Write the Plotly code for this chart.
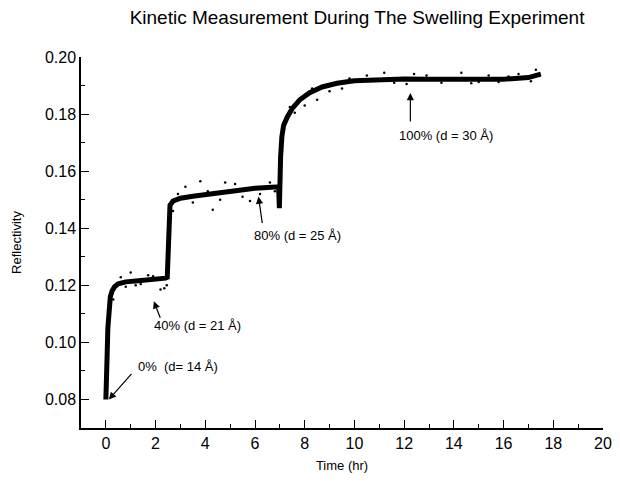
import plotly.graph_objects as go

# Trend of reflectivity vs time
time_hr = [0.00, 0.02, 0.05, 0.08, 0.12, 0.18, 0.25, 0.35, 0.5, 0.8, 1.2, 1.6, 2.0, 2.4, 2.47,
           2.49, 2.51, 2.53, 2.58, 2.7, 3.0, 3.5, 4.0, 4.5, 5.0, 5.5, 6.0, 6.5, 6.95,
           6.98, 7.0, 7.03, 7.08, 7.15, 7.3, 7.5, 7.8, 8.2, 8.7, 9.3, 10.0, 11.0, 12.0,
           13.0, 14.0, 15.0, 16.0, 17.0, 17.5]
reflectivity = [0.0800, 0.0830, 0.0950, 0.1050, 0.1120, 0.1160, 0.1180, 0.1195, 0.1205, 0.1212,
                0.1215, 0.1218, 0.1220, 0.1225, 0.1228,
                0.1300, 0.1400, 0.1450, 0.1480, 0.1495, 0.1505, 0.1512, 0.1518, 0.1525, 0.1530,
                0.1535, 0.1540, 0.1543, 0.1545,
                0.1470, 0.1580, 0.1650, 0.1720, 0.1760, 0.1790, 0.1820, 0.1850, 0.1875, 0.1895,
                0.1908, 0.1917, 0.1922, 0.1923, 0.1922, 0.1921, 0.1921, 0.1922, 0.1928, 0.1940]

# Scattered outlying points
scatter_t = [0.3, 0.6, 0.8, 1.0, 1.2, 1.4, 1.7, 1.9, 2.2, 2.35, 2.45, 2.7, 2.9, 3.2, 3.5,
             3.8, 4.1, 4.3, 4.6, 4.8, 5.2, 5.5, 5.8, 6.2, 6.6, 6.8,
             7.4, 7.6, 8.0, 8.3, 8.5, 9.0, 9.5, 9.8, 10.5, 11.2, 11.6, 12.1, 12.4, 12.9,
             13.5, 14.3, 14.7, 15.0, 15.4, 15.8, 16.2, 16.6, 17.1, 17.3]
scatter_r = [0.1150, 0.1228, 0.1195, 0.1245, 0.1200, 0.1205, 0.1235, 0.1232, 0.1185, 0.1190,
             0.1200, 0.1460, 0.1520, 0.1545, 0.1490, 0.1565, 0.1530, 0.1465, 0.1500, 0.1560,
             0.1555, 0.1510, 0.1495, 0.1520, 0.1560, 0.1530,
             0.1825, 0.1805, 0.1830, 0.1890, 0.1850, 0.1880, 0.1890, 0.1925, 0.1935, 0.1945,
             0.1910, 0.1905, 0.1940, 0.1935, 0.1910, 0.1945, 0.1908, 0.1912, 0.1935, 0.1912,
             0.1932, 0.1940, 0.1915, 0.1955]

x_ticks = list(range(0, 21, 2))
y_ticks = [0.08, 0.10, 0.12, 0.14, 0.16, 0.18, 0.20]

FONT = "Liberation Sans, Arial, sans-serif"

fig = go.Figure()
fig.add_trace(go.Scatter(x=time_hr, y=reflectivity, mode="lines",
                         line=dict(color="black", width=5), showlegend=False))
fig.add_trace(go.Scatter(x=scatter_t, y=scatter_r, mode="markers",
                         marker=dict(color="black", size=2.5), showlegend=False))

# arrows: (head_x, head_y, ax, ay)
arrows = [(0.12, 0.0800, 24, -27), (1.93, 0.1144, 7, 18), (6.14, 0.1511, 4, 28), (12.25, 0.1874, 0, 30)]
for hx, hy, ax, ay in arrows:
    fig.add_annotation(x=hx, y=hy, ax=ax, ay=ay, text="", showarrow=True, arrowhead=2,
                       arrowsize=1.2, arrowwidth=1.2, arrowcolor="black")

labels = [("0%  (d= 14 Å)", 2.9, 0.0914), ("40% (d = 21 Å)", 3.7, 0.1058),
          ("80% (d = 25 Å)", 7.7, 0.1375), ("100% (d = 30 Å)", 13.7, 0.1724)]
for txt, lx, ly in labels:
    fig.add_annotation(x=lx, y=ly, text=txt, showarrow=False,
                       font=dict(family=FONT, size=13, color="black"))

fig.update_layout(
    width=620, height=481,
    margin=dict(l=73, r=25, t=49, b=61, autoexpand=False),
    paper_bgcolor="white", plot_bgcolor="white",
    font=dict(family=FONT, color="black"),
    title=dict(text="Kinetic Measurement During The Swelling Experiment",
               x=0.563, xanchor="center", y=0.981, yanchor="middle",
               font=dict(family=FONT, size=19, color="black")),
)
fig.update_xaxes(range=[-1, 20], tickvals=x_ticks, ticks="inside", ticklen=8, tickwidth=1.3,
                 minor=dict(dtick=1, ticks="inside", ticklen=4, tickwidth=1.3, tickcolor="black"),
                 showline=True, linecolor="black", linewidth=1.5, showgrid=False, zeroline=False,
                 tickfont=dict(size=16), tickcolor="black", automargin=False,
                 title=dict(text="Time (hr)", font=dict(size=13), standoff=10))
fig.update_yaxes(range=[0.07, 0.20], tickvals=y_ticks, tickformat=".2f", ticks="inside",
                 ticklen=8, tickwidth=1.3,
                 minor=dict(tick0=0.07, dtick=0.01, ticks="inside", ticklen=4, tickwidth=1.3,
                            tickcolor="black"),
                 showline=True, linecolor="black", linewidth=1.5, showgrid=False, zeroline=False,
                 tickfont=dict(size=16), tickcolor="black", automargin=False,
                 title=dict(text="Reflectivity", font=dict(size=13), standoff=20))

fig.write_html("out.html")
